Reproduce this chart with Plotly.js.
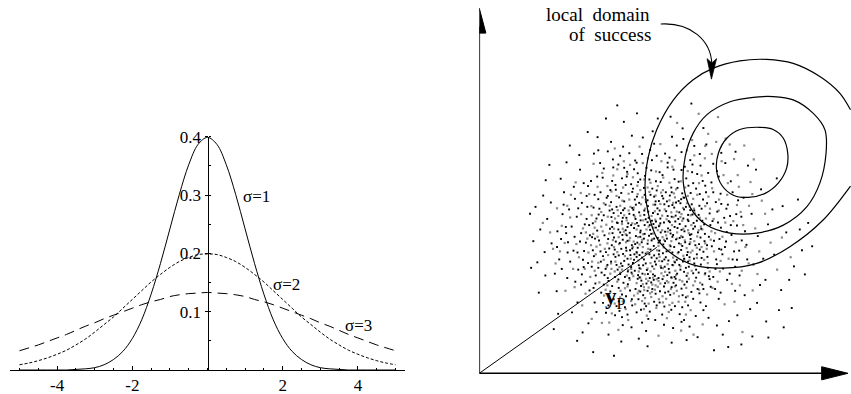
<!DOCTYPE html>
<html><head><meta charset="utf-8">
<script src="https://cdn.plot.ly/plotly-3.0.1.min.js"></script>
<style>html,body{margin:0;padding:0;background:#fff}</style>
</head><body><div id="chart" style="width:851px;height:394px"></div>
<script>
// ---------- LEFT PANEL: p(z) curves ----------
const z = [-5,-4.75,-4.5,-4.25,-4,-3.75,-3.5,-3.25,-3,-2.75,-2.5,-2.25,-2,-1.75,-1.5,-1.25,-1,-0.75,-0.5,-0.25,0,0.25,0.5,0.75,1,1.25,1.5,1.75,2,2.25,2.5,2.75,3,3.25,3.5,3.75,4,4.25,4.5,4.75,5];
const pSigma1 = [0,0,0,0,0,0,0.001,0.002,0.004,0.009,0.018,0.032,0.054,0.086,0.130,0.183,0.242,0.301,0.352,0.387,0.399,0.387,0.352,0.301,0.242,0.183,0.130,0.086,0.054,0.032,0.018,0.009,0.004,0.002,0.001,0,0,0,0,0,0];
const pSigma2 = [0.009,0.012,0.016,0.021,0.027,0.034,0.043,0.053,0.065,0.078,0.091,0.106,0.121,0.136,0.151,0.164,0.176,0.186,0.193,0.198,0.199,0.198,0.193,0.186,0.176,0.164,0.151,0.136,0.121,0.106,0.091,0.078,0.065,0.053,0.043,0.034,0.027,0.021,0.016,0.012,0.009];
const pSigma3 = [0.033,0.038,0.043,0.049,0.055,0.061,0.068,0.075,0.081,0.088,0.094,0.100,0.106,0.112,0.117,0.121,0.126,0.129,0.131,0.132,0.133,0.132,0.131,0.129,0.126,0.121,0.117,0.112,0.106,0.100,0.094,0.088,0.081,0.075,0.068,0.061,0.055,0.049,0.043,0.038,0.033];
const xTickVals = [-4,-2,2,4];
const xTickText = ['-4','-2','2','4'];
const yTickVals = [0.1,0.2,0.3,0.4];
const sigmaLabels = ['σ=1','σ=2','σ=3'];
const sigmaLabelZ = [1.31,2.11,4.01];
const sigmaLabelP = [0.297,0.146,0.077];

// ---------- RIGHT PANEL: scatter cloud, success contours, y_P ----------
const yP = {x:[0,48.6], y:[0,34.5]};
const contourOuter = {
  x:[101.7,94.2,85.1,76.0,66.8,58.6,53.2,49.0,46.3,45.4,46.3,48.6,53.2,58.6,64.1,71.4,78.7,86.0,93.3,98.8,101.7],
  y:[51.3,42.0,34.7,30.1,28.8,29.7,32.4,36.5,43.8,51.1,59.3,66.7,74.9,80.4,83.6,85.6,86.0,84.9,81.3,76.7,72.2]};
const contourMiddle = {
  x:[80.5,75.1,68.7,62.3,58.6,56.4,55.9,57.7,62.3,68.7,76.0,83.3,89.7,93.3,95.0,94.7,91.5,86.0,80.5],
  y:[75.8,75.6,74.4,70.8,65.8,59.3,52.1,45.6,40.6,38.4,38.4,40.6,45.6,52.1,60.3,66.7,71.2,74.9,75.8]};
const contourInner = {
  x:[76.9,71.4,67.8,65.5,65.0,66.4,69.6,73.7,78.3,81.9,84.2,84.5,83.3,80.5,76.9],
  y:[67.4,66.8,64.4,60.3,55.7,51.6,48.8,48.2,49.3,52.1,56.2,60.3,64.4,66.8,67.4]};

const blackDots = [
[41.2,38.5],[44.7,33.1],[47.3,41.8],[50.9,36.2],[53.6,30.4],[38.5,35.7],[45.9,28.3],[49.4,44.6],[56.2,38.9],[42.8,42.3],
[39.7,30.8],[52.1,27.6],[47.8,34.9],[44.1,37.4],[55.3,33.8],[58.7,41.2],[36.4,40.1],[48.6,31.5],[51.7,39.7],[43.5,26.9],
[46.2,45.8],[54.8,44.1],[40.3,33.6],[37.9,28.4],[57.4,29.2],[50.2,25.8],[45.3,40.6],[42.1,30.2],[53.9,36.7],[49.8,28.9],
[38.8,43.9],[60.2,35.4],[47.1,38.2],[44.6,31.7],[52.7,42.9],[35.6,34.2],[41.9,45.3],[56.8,26.7],[48.3,47.1],[39.2,37.9],
[54.1,31.1],[46.7,26.1],[43.3,35.8],[51.3,33.4],[58.1,38.1],[37.3,31.9],[45.2,43.4],[50.6,41.3],[42.6,28.1],[55.9,42.4],
[40.8,41.1],[48.9,37.1],[53.2,24.8],[44.9,29.6],[36.9,37.2],[59.6,32.6],[47.6,43.9],[41.4,32.4],[52.4,38.3],[46.1,35.5],
[39.9,26.4],[56.4,35.9],[43.8,46.7],[50.1,30.7],[54.6,47.2],[38.1,39.4],[45.6,32.8],[49.1,35.8],[42.4,39.8],[57.8,44.7],
[35.1,29.7],[51.9,45.8],[47.4,29.3],[44.2,41.9],[53.4,34.6],[40.6,36.3],[48.1,26.7],[55.1,28.4],[37.6,45.6],[46.8,39.3],
[43.1,33.2],[51.1,31.8],[58.9,30.1],[41.7,27.6],[49.6,42.4],[54.3,39.8],[39.4,32.7],[45.1,36.9],[52.9,29.7],[47.9,32.3],
[36.2,42.8],[60.8,39.6],[44.4,25.4],[50.4,47.9],[42.9,37.6],[56.1,31.4],[46.4,42.6],[38.6,27.2],[53.7,41.6],[48.4,39.9],
[41.1,43.7],[55.7,37.3],[45.8,24.6],[51.4,36.9],[39.1,41.6],[57.1,33.2],[43.9,28.8],[49.3,33.6],[47.2,36.4],[52.6,26.3],
[25.3,40.2],[28.7,33.5],[22.4,36.8],[31.6,48.9],[27.1,28.4],[33.8,53.6],[30.2,22.7],[24.6,44.9],[35.4,18.6],[29.8,51.3],
[26.3,25.1],[32.7,43.5],[21.9,31.2],[34.1,24.3],[28.1,46.7],[36.7,56.4],[23.7,40.1],[30.9,37.3],[37.2,15.9],[33.3,30.6],
[40.5,55.2],[38.2,19.7],[42.7,58.3],[44.3,17.4],[46.8,61.2],[48.2,14.6],[51.6,57.7],[50.7,18.3],[55.4,60.6],[54.9,16.2],
[58.3,55.1],[60.6,19.4],[62.1,49.6],[63.4,23.7],[65.2,44.3],[64.7,28.6],[67.8,38.7],[66.3,33.9],[69.4,31.2],[68.1,46.2],
[71.3,26.8],[70.6,40.5],[73.2,35.2],[72.7,21.4],[75.1,29.8],[74.6,43.7],[62.8,15.2],[57.6,12.8],[45.7,11.6],[39.3,13.2],
[32.1,16.8],[26.9,19.4],[19.8,35.6],[18.6,42.3],[20.7,27.3],[23.2,49.6],[27.6,55.8],[31.4,60.2],[36.1,63.4],[41.8,65.1],
[47.5,66.3],[52.8,64.8],[58.9,62.3],[64.1,57.4],[68.9,52.6],[72.4,48.1],[76.3,37.6],[77.8,31.4],[76.9,24.2],[74.2,17.6],
[68.4,14.3],[61.7,36.2],[63.9,41.7],[60.3,45.9],[59.4,26.2],[62.5,31.9],[65.8,36.8],[61.2,52.7],[57.3,51.4],[53.5,53.2],
[49.7,52.4],[45.4,54.1],[41.6,51.8],[37.4,50.3],[34.6,46.2],[32.3,39.1],[31.1,33.7],[33.5,27.6],[35.9,22.4],[40.2,21.1],
[43.6,20.3],[47.9,19.6],[52.3,21.5],[56.6,20.8],[59.8,23.1],[61.9,27.4],[29.4,42.3],[26.1,37.4],[24.2,33.1],
[14.8,36.2],[16.3,22.1],[17.5,48.7],[15.9,30.4],[19.2,57.1],[21.6,16.3],[24.8,62.4],[28.3,11.2],[34.7,69.8],[38.9,8.7],
[43.2,71.2],[46.1,7.4],[52.4,70.3],[56.8,9.1],[61.4,67.2],[66.7,10.6],[70.2,60.7],[78.6,14.2],[80.3,44.9],[82.7,22.8],
[84.1,38.6],[86.2,29.3],[81.5,53.4],[88.4,33.7],[79.2,9.8],[90.1,41.2],[85.6,17.9],[75.8,55.8],[13.9,43.7],[18.1,26.8],
[22.3,53.3],[29.7,66.1],[37.8,73.4],[64.3,6.3],[71.8,7.9],[87.3,47.6],[83.4,12.6],[58.1,73.9],[20.4,12.1],[31.2,5.8],
[43.4,34.4],[46.5,37.7],[49.2,40.3],[51.6,43.1],[54.7,35.6],[57.9,36.8],[40.1,39.2],[38.9,34.1],[42.2,44.8],[45.7,46.9],
[48.8,45.2],[53.1,37.9],[55.8,30.6],[50.3,32.9],[47.6,27.1],[44.3,23.9],[41.6,29.1],[39.5,24.8],[36.8,32.6],[34.3,37.8],
[35.7,44.6],[38.3,48.2],[41.9,49.7],[45.1,50.8],[48.6,50.1],[52.2,48.7],[55.6,49.3],[58.2,46.3],[60.1,43.4],[61.6,40.8],
[62.9,37.4],[61.4,33.3],[60.7,29.8],[58.6,27.4],[55.4,23.2],[51.8,22.4],[48.3,21.8],[44.9,21.4],[41.3,22.7],[38.1,25.7],
[35.2,26.1],[33.9,32.1],[32.8,36.4],[33.6,41.9],[36.1,46.9],[39.8,45.2],[43.2,41.2],[46.1,41.4],[49.7,38.6],[52.4,34.8],
[50.8,29.2],[47.2,31.7],[44.5,35.9],[41.8,35.1],[40.6,31.4],[43.1,31.9],[45.6,30.1],[48.4,29.8],[51.5,26.9],[54.2,27.3],
[56.9,32.4],[59.2,35.1],[57.3,41.7],[54.5,42.3],[51.9,41.7],[48.9,43.6],[46.3,44.3],[43.8,44.1],[40.3,42.6],[37.7,41.3],
[36.3,35.1],[37.6,29.7],[40.7,27.9],[43.9,26.3],[47.1,24.9],[50.6,23.8],[53.8,25.9],[56.6,28.9],[58.8,31.4],[59.9,38.6],
[63.7,34.8],[64.9,31.2],[66.8,28.7],[65.4,41.3],[63.1,43.8],[61.3,47.6],[59.4,50.6],[56.7,53.4],[53.2,55.8],[49.4,55.1],
[45.8,56.3],[42.4,55.9],[39.1,53.4],[36.4,52.7],[33.2,49.6],[31.3,45.4],[30.1,40.6],[29.2,35.8],[29.8,30.2],[31.9,26.8],
[33.4,22.1],[36.8,20.3],[39.9,18.1],[43.1,16.7],[46.7,16.9],[50.1,16.1],[53.6,18.4],[57.2,18.6],[60.3,21.9],[63.1,25.8],
[67.3,34.6],[69.1,37.9],[71.2,33.6],[68.7,43.1],[66.1,49.2],[62.7,54.9],[57.8,58.4],[50.9,60.2],[44.6,60.1],[38.6,59.6],
[33.1,57.6],[28.6,52.1],[26.2,47.8],[23.8,38.4],[24.9,30.6],[27.9,24.3],[31.6,19.4],[41.7,12.6],[53.1,12.4],[59.3,15.7],
[65.6,20.4],[70.1,29.2],[72.8,38.9],[70.9,47.4],[67.4,57.6],[55.9,64.2],[44.8,64.6],[35.2,60.8],[22.8,43.6],[21.4,38.9],
[42.6,47.6],[45.3,48.9],[47.9,48.4],[50.7,46.3],[53.4,45.4],[55.3,47.7],[52.6,50.9],[56.1,44.9],[58.4,43.5],[60.6,37.2],
[16.7,39.4],[19.6,46.8],[17.9,33.2],[21.2,22.5],[25.4,16.7],[27.4,59.8],[32.4,64.7],[39.6,68.9],[48.9,69.8],[55.7,67.1],
[62.2,62.7],[66.3,60.4],[73.6,56.9],[77.2,50.4],[79.1,40.8],[80.8,32.5],[78.4,25.6],[76.1,19.3],[70.7,15.9],[65.1,13.1],
[59.8,9.9],[52.7,8.4],[43.7,9.5],[35.4,10.6],[29.9,13.7],[24.1,26.1],[14.2,28.9],[15.4,45.6],[18.2,52.9],[23.9,57.8],
[84.9,25.6],[87.8,39.4],[83.1,45.8],[89.2,27.1],[82.1,17.3],[74.8,10.1],[68.2,7.2],[26.8,8.9],[36.9,4.8],[91.2,34.8],
[39.3,36.6],[41.9,34.2],[44.2,39.1],[46.9,33.9],[49.5,36.4],[52.3,39.2],[54.9,37.1],[57.6,35.4],[43.7,29.6],[40.9,29.8],
[38.2,32.3],[36.5,38.4],[37.9,41.2],[41.6,40.6],[45.6,42.2],[48.4,41.6],[51.2,44.4],[53.8,43.2],[56.5,40.3],[59.1,40.2],
[57.7,37.9],[55.6,34.9],[52.9,33.1],[50.7,31.2],[48.1,30.6],[45.1,31.2],[42.5,32.6],[40.2,34.4],[37.4,36.1],[35.8,39.6],
[34.1,43.3],[36.8,43.9],[39.4,44.7],[42.9,46.2],[46.1,47.4],[49.2,47.2],[52.9,46.1],[55.1,46.6],[57.2,43.4],[59.6,41.8],
[61.8,38.2],[60.4,33.9],[57.6,31.8],[54.8,29.7],[51.9,28.6],[49.1,26.1],[46.2,27.2],[43.4,25.9],[40.7,24.4],[37.2,26.4],
[34.6,28.6],[33.2,33.4],[31.7,36.9],[32.1,42.4],[34.9,48.1],[38.9,49.4],[42.1,50.6],[47.4,50.6],[51.1,49.6],[54.3,50.8],
[57.9,49.4],[60.9,45.1],[63.3,40.6],[64.3,36.3],[62.6,28.9],[60.1,27.6],[56.2,24.3],[52.7,23.6],[49.5,22.5],[46.1,22.6],
[42.8,23.1],[39.1,21.6],[36.4,23.9],[34.3,26.9],[30.8,29.2],[28.4,31.1],[27.6,36.1],[28.9,40.8],[29.6,45.6],[32.6,47.7],
[35.9,50.2],[40.1,51.6],[43.5,52.4],[46.6,53.1],[50.2,54.3],[54.6,52.5],[58.6,52.1],[60.4,49.1],[62.4,46.6],[64.8,46.9],
[66.2,39.9],[65.7,34.1],[64.1,26.4],[61.1,24.3],[58.1,22.3],[55.7,21.4],[49.4,19.4],[45.3,19.1],[41.9,18.6],[38.4,17.1],
[34.7,16.6],[31.3,23.4],[28.1,27.1],[25.8,33.6],[26.7,42.9],[30.6,52.7],[34.1,56.1],[38.1,57.2],[43.1,57.7],[47.3,58.4],
[52.1,59.1],[56.3,56.6],[60.6,56.9],[63.6,52.3],[67.7,45.1],[68.9,40.6],[69.8,33.4],[67.9,25.6],[66.1,22.1],[62.1,18.4],
[56.1,14.6],[50.6,13.3],[44.6,13.9],[39.1,15.4],[33.9,19.3],[29.1,25.1],[24.3,35.9],[27.1,45.2],[39.4,62.1],[47.9,62.9],
[54.1,62.4],[60.4,60.1],[65.6,53.9],[71.8,42.9],[73.4,31.2],[70.1,22.6],[44.1,38.6],[47.7,40.9],[50.9,38.8],[53.5,40.1],
[40.4,37.8],[42.7,35.4],[45.3,38.2],[47.9,36.9],[50.4,35.3],[52.9,37.4],[55.4,39.3],[58.6,39.6],[41.3,33.7],[43.9,32.4],
[46.6,32.6],[49.2,32.6],[51.8,30.9],[54.6,33.2],[57.2,30.6],[39.2,29.4],[42.4,31.1],[44.7,27.3],[47.8,25.6],[50.9,24.7],
[53.5,26.4],[56.1,27.8],[37.1,33.9],[38.6,38.6],[40.6,40.1],[43.6,40.4],[46.7,40.6],[49.6,41.1],[52.2,41.4],[54.9,40.9],
[57.1,42.1],[39.3,42.6],[42.3,43.4],[45.2,44.6],[48.2,46.2],[51.4,47.1],[53.9,46.8],[56.6,45.6],[36.4,44.9],[39.7,47.1],
[43.2,48.4],[46.9,48.9],[50.1,48.6],[35.3,36.8],[34.7,33.2],[36.1,30.6],[38.8,30.1],[41.1,26.1],[44.1,22.4],[47.4,23.1],
[50.9,22.1],[53.9,24.1],[56.9,25.1],[59.4,28.4],[60.9,31.6],[62.4,35.1],[61.1,41.8],[58.9,44.6],[56.1,48.1],[52.7,49.6],
[48.4,52.6],[44.1,53.1],[40.4,53.9],[37.3,51.6],[35.2,48.6],[32.9,45.1],[31.1,41.1],[30.3,37.8],[31.4,32.1],[32.6,28.9],
[35.4,25.3],[38.2,23.4],[41.8,20.3],[45.7,18.4],[48.6,18.6],[52.6,17.4],[55.6,18.1],[58.6,20.4],[61.4,23.1],[62.9,26.6],
[65.1,29.9],[66.6,32.6],[67.6,36.1],[67.1,42.6],[66.3,46.4],[64.1,49.6],[61.9,51.4],[59.7,54.6],[55.4,55.7],[51.6,56.4],
[47.1,55.6],[43.4,54.8],[39.7,56.3],[36.6,58.6],[32.3,53.9],[29.4,48.6],[27.9,38.4],[26.9,33.1],[28.6,29.1],[31.8,24.6],
[37.6,18.4],[40.6,16.1],[46.3,14.9],[55.4,14.1],[61.4,17.3],[64.6,23.1],[68.6,27.3],[70.6,31.1],[71.9,36.4],[70.4,43.6],
[69.4,49.6],[65.1,55.4],[58.4,57.2],[48.6,59.6],[41.1,60.3],[32.6,61.1],[25.9,51.1],[23.1,46.2],[21.3,34.6],[22.6,28.6]];

const grayDots = [
[42.3,36.1],[45.8,39.4],[48.7,33.7],[51.2,37.8],[54.4,32.9],[46.9,30.2],[49.9,27.4],[52.8,40.6],[44.1,43.2],[39.6,38.8],
[47.4,36.8],[50.5,34.5],[53.7,28.1],[41.5,31.4],[56.3,36.4],[43.7,27.9],[48.2,42.1],[55.6,41.8],[37.8,33.2],[46.3,25.3],
[51.8,24.9],[58.4,33.6],[40.9,44.6],[44.8,34.6],[49.3,30.8],[52.2,35.1],[47.7,46.2],[54.9,25.6],[42.7,40.9],[38.4,29.1],
[57.2,39.2],[45.2,22.8],[50.8,44.9],[36.6,36.5],[53.3,21.9],[48.9,23.7],[41.2,25.6],[59.1,29.4],[55.8,45.3],[43.4,49.1],
[34.8,40.7],[62.3,34.1],[46.6,49.7],[50.3,50.2],[39.2,47.3],[33.1,35.2],[60.4,42.6],[56.7,23.4],[44.6,19.8],[52.1,18.7],
[47.1,20.9],[35.9,27.3],[38.7,22.6],[58.6,47.8],[61.8,27.1],[31.8,41.6],[29.6,36.9],[32.6,30.3],[64.6,38.4],[63.2,45.1],
[55.2,52.6],[48.4,55.3],[42.1,53.7],[36.2,49.8],[30.7,45.8],[28.4,39.7],[27.3,31.8],[30.4,26.4],[34.2,21.3],[40.1,17.6],
[45.9,15.8],[51.4,15.1],[57.9,17.3],[62.4,21.6],[66.1,30.8],[67.4,41.3],[65.7,47.6],[60.9,54.2],[53.6,58.4],[46.2,58.9],
[39.6,58.1],[33.7,54.9],[27.8,49.4],[24.9,42.7],[23.4,35.7],[25.7,28.6],[29.1,21.8],[36.3,16.4],[70.3,35.9],[71.6,44.2],
[69.2,24.5],[73.8,30.1],[66.9,54.3],[63.7,60.1],[58.3,63.9],[49.6,62.8],[43.9,62.1],[37.1,61.6],[31.3,57.4],[26.4,52.3],
[21.3,45.2],[19.4,38.6],[20.9,30.1],[23.6,22.6],[30.8,14.9],[38.1,11.9],[49.1,10.3],[55.3,11.7],[61.2,13.4],[67.2,18.9],
[75.6,39.7],[77.4,47.3],[79.8,35.8],[81.6,28.4],[74.3,52.4],[69.8,58.7],[62.7,65.6],[54.2,68.6],[67.5,64.3],[72.6,62.4],
[65.4,70.2],[60.1,71.1],[57.1,48.6],[53.1,46.7],[44.3,46.3],[40.4,41.9],[37.2,42.4],[35.3,32.4],[40.8,28.3],[45.4,27.1],
[48.6,25.8],[53.9,26.9],[57.6,30.9],[59.7,37.5],[55.3,37.6],[50.1,39.2],[46.1,33.2],[43.6,30.9],[47.9,28.6],[51.6,29.9],[54.1,44.3],
[44.9,38.1],[47.8,39.9],[50.6,36.6],[53.1,31.7],[49.4,31.9],[46.1,28.7],[43.2,32.9],[41.3,37.1],[39.1,40.9],[42.6,42.9],
[45.4,45.1],[48.1,44.4],[51.3,42.2],[54.2,38.6],[56.8,34.3],[55.1,29.3],[52.7,26.1],[49.6,24.6],[46.4,23.5],[43.1,24.7],
[40.4,26.8],[37.3,30.6],[35.6,38.3],[37.9,44.7],[41.1,47.6],[44.7,48.2],[48.3,48.7],[52.1,47.4],[55.4,43.6],[58.1,40.6],
[59.6,34.4],[58.2,28.1],[55.6,25.2],[51.2,20.4],[47.3,22.3],[42.4,21.3],[38.6,27.6],[36.1,30.1],[34.4,34.1],[35.2,42.9],
[39.4,50.9],[46.9,52.2],[53.9,50.4],[57.6,45.7],[61.1,39.4],[62.6,30.2],[60.5,24.8],[50.2,21.1],[49.1,25.3],[52.5,23.1],
[48.1,22.9],[50.9,27.8],[53.6,23.8],[46.8,21.9],[45.7,25.9],[44.2,28.6],[42.1,34.6],[40.2,35.9],[38.2,37.3],[36.9,39.6],
[39.7,43.3],[33.8,38.9],[32.1,34.7],[31.2,38.2],[33.4,44.2],[30.9,30.6],[34.9,29.2],[57.4,25.9],[59.1,25.2],[61.6,31.1],
[63.4,36.6],[64.2,42.3],[61.9,45.8],[59.7,48.9],[56.4,50.9],[50.4,53.6],[45.2,53.1],[40.6,54.6],[37.8,55.9],[63.8,50.7],
[67.9,48.9],[69.6,41.7],[68.3,31.4],[65.3,25.1],[57.1,21.1],[54.6,19.6],[48.5,17.9],[42.7,18.9],[37.1,19.1],[32.9,24.9],
[28.9,28.6],[26.6,35.4],[27.9,43.6],[30.1,49.1],[35.1,51.3],[66.4,58.1],[70.8,54.3],[64.9,63.4],[71.1,51.1],[73.9,45.9],
[61.8,58.9],[58.9,59.7],[68.6,62.7],[75.2,58.6],[78.3,43.7],[72.3,40.6],[71.9,28.1],[76.7,33.4],[74.9,22.7],[69.9,19.6],
[22.6,40.4],[20.2,34.1],[25.1,48.9],[17.4,41.2],[28.2,18.6],[33.6,13.8],[58.7,10.6],[72.1,11.3],[82.9,37.2],[85.3,31.8],
[44.6,36.6],[47.6,38.3],[50.2,37.3],[52.6,36.2],[55.2,35.4],[49.1,34.9],[46.3,34.1],[43.9,35.3],[41.1,36.4],[39.3,39.6],
[41.9,41.1],[44.9,41.9],[47.2,43.1],[50.1,43.2],[53.2,42.8],[55.9,39.6],[57.8,35.9],[56.2,31.2],[53.1,29.6],[50.3,28.8],
[47.6,26.2],[44.8,24.4],[41.9,27.2],[39.1,28.4],[36.9,34.6],[38.6,45.9],[41.4,45.6],[44.1,50.2],[48.9,51.3],[52.1,52.2],
[55.9,48.2],[58.8,45.1],[60.7,40.2],[61.9,35.6],[59.6,31.6],[57.1,27.4],[54.1,22.6],[51.4,25.3],[48.3,24.1],[45.1,23.6],
[42.2,26.6],[39.9,23.3],[37.1,27.9],[34.1,31.1],[32.4,37.4],[33.4,40.2],[35.7,45.9],[37.6,48.6],[40.9,49.2],[43.3,51.4],
[46.1,50.9],[49.8,49.5],[53.6,48.2],[56.9,46.6],[59.1,43.8],[62.1,42.4],[63.6,38.9],[64.3,33.4],[63.1,27.9],[60.2,22.9],
[56.4,19.6],[52.9,19.3],[49.2,20.3],[45.4,20.6],[41.6,19.8],[38.6,20.8],[35.1,24.1],[31.6,28.1],[29.9,33.1],[29.2,38.6],
[30.8,43.3],[32.4,51.1],[36.7,54.2],[41.3,57.1],[44.8,57.6],[49.9,58.1],[52.9,56.6],[57.1,55.4],[60.2,52.1],[62.8,48.4],
[65.6,44.6],[66.6,37.4],[65.9,27.9],[63.9,23.4],[68.1,52.1],[70.6,46.1],[72.9,34.6],[71.4,24.1],[74.8,49.1],[76.2,27.2],
[45.1,17.6],[51.9,16.8],[40.8,14.6],[56.6,16.1],[35.6,13.9],[24.1,45.9],[22.1,33.4],[26.1,23.6],[61.9,62.3],[56.9,61.1],
[43.5,37.3],[46.2,36.4],[48.9,39.2],[51.6,38.8],[54.2,36.9],[52.1,33.8],[49.7,29.4],[46.9,27.9],[44.1,26.2],[41.6,28.6],
[39.9,32.1],[38.3,35.4],[40.1,38.1],[43.1,39.4],[46.4,40.2],[49.4,40.6],[52.6,44.1],[55.1,42.8],[57.4,38.4],[58.9,36.2],
[57.9,33.1],[55.9,32.2],[53.4,30.6],[50.5,26.6],[47.4,24.3],[43.7,22.6],[40.6,23.8],[37.8,25.1],[36.2,28.6],[35.1,35.6],
[36.4,41.6],[38.1,43.1],[42.3,45.4],[45.6,47.6],[49.6,46.4],[53.3,49.3],[57.9,43.3],[60.1,39.2],[60.9,34.6],[58.6,24.1],
[54.7,21.1],[50.3,19.4],[46.4,19.1],[43.4,21.9],[39.3,19.7],[34.6,22.9],[31.9,32.6],[30.6,35.1],[31.6,39.9],[34.1,46.6]];

const serif = 'Liberation Serif';
const col = a => a.map(p => p[0]);
const row = a => a.map(p => p[1]);

const traces = [
  {x:z, y:pSigma1, mode:'lines', line:{color:'#000', width:1, shape:'spline'}, xaxis:'x', yaxis:'y', hoverinfo:'skip'},
  {x:z, y:pSigma2, mode:'lines', line:{color:'#000', width:1, shape:'spline', dash:'3px,2px'}, xaxis:'x', yaxis:'y', hoverinfo:'skip'},
  {x:z, y:pSigma3, mode:'lines', line:{color:'#000', width:1, shape:'spline', dash:'10px,6px'}, xaxis:'x', yaxis:'y', hoverinfo:'skip'},
  {x:col(grayDots), y:row(grayDots), mode:'markers', marker:{symbol:'square', size:2.2, color:'#8a8a8a', line:{width:0}}, xaxis:'x2', yaxis:'y2', hoverinfo:'skip'},
  {x:col(blackDots), y:row(blackDots), mode:'markers', marker:{symbol:'square', size:1.9, color:'#000', line:{width:0}}, xaxis:'x2', yaxis:'y2', hoverinfo:'skip'},
  {x:contourOuter.x, y:contourOuter.y, mode:'lines', line:{color:'#000', width:1.2, shape:'spline', smoothing:0.9, simplify:false}, xaxis:'x2', yaxis:'y2', hoverinfo:'skip'},
  {x:contourMiddle.x, y:contourMiddle.y, mode:'lines', line:{color:'#000', width:1.2, shape:'spline', smoothing:0.9, simplify:false}, xaxis:'x2', yaxis:'y2', hoverinfo:'skip'},
  {x:contourInner.x, y:contourInner.y, mode:'lines', line:{color:'#000', width:1.2, shape:'spline', smoothing:0.9, simplify:false}, xaxis:'x2', yaxis:'y2', hoverinfo:'skip'},
  {x:yP.x, y:yP.y, mode:'lines', line:{color:'#000', width:1}, xaxis:'x2', yaxis:'y2', hoverinfo:'skip'}
];

const W = 851, H = 394;
const annotations = [];
sigmaLabels.forEach((t,i) => annotations.push({xref:'x', yref:'y', x:sigmaLabelZ[i], y:sigmaLabelP[i], text:t, showarrow:false, xanchor:'center', yanchor:'middle', font:{family:serif, size:17, color:'#000'}}));
annotations.push({xref:'x', yref:'y', x:0.02, y:0.422, text:'p(z)', showarrow:false, xanchor:'center', yanchor:'middle', font:{family:serif, size:17, color:'#000'}});
annotations.push({xref:'x', yref:'y', x:5.6, y:0.003, text:'z', showarrow:false, xanchor:'center', yanchor:'middle', font:{family:serif, size:18, color:'#000'}});
annotations.push({xref:'x2', yref:'y2', x:47.4, y:98.4, text:'local\u00a0 domain', showarrow:false, xanchor:'right', yanchor:'middle', font:{family:serif, size:19, color:'#000'}});
annotations.push({xref:'x2', yref:'y2', x:47.6, y:92.7, text:'of\u00a0 success', showarrow:false, xanchor:'right', yanchor:'middle', font:{family:serif, size:19, color:'#000'}});
annotations.push({xref:'x2', yref:'y2', x:37.2, y:20.6, text:'<b>y</b><sub>P</sub>', showarrow:false, xanchor:'center', yanchor:'middle', font:{family:serif, size:23, color:'#000'}});

const shapes = [
  {type:'line', xref:'x', yref:'y', x0:0, x1:0, y0:-0.0115, y1:0, line:{color:'#000', width:1}},
  {type:'line', xref:'x2', yref:'y2', x0:0, y0:0, x1:0, y1:95, line:{color:'#000', width:1.6}},
  {type:'line', xref:'x2', yref:'y2', x0:0, y0:0, x1:95, y1:0, line:{color:'#000', width:1.6}},
  {type:'path', xref:'x2', yref:'y2', path:'M -1.8 93.2 L 0 100 L 1.8 93.2 Z', fillcolor:'#000', line:{color:'#000', width:1}},
  {type:'path', xref:'x2', yref:'y2', path:'M 93.8 -1.8 L 101 0 L 93.8 1.8 Z', fillcolor:'#000', line:{color:'#000', width:1}},
  {type:'path', xref:'x2', yref:'y2', path:'M 49.7 95.7 C 57.8 96.2 63.5 91.3 63.7 84.7', line:{color:'#000', width:1.1}},
  {type:'path', xref:'x2', yref:'y2', path:'M 62.4 86.2 L 63.6 80.6 L 65.0 86.2 L 63.7 85.0 Z', fillcolor:'#000', line:{color:'#000', width:0.8}}
];

const layout = {
  width:W, height:H, margin:{l:0, r:0, t:0, b:0},
  paper_bgcolor:'#fff', plot_bgcolor:'rgba(0,0,0,0)', showlegend:false,
  font:{family:serif, size:17, color:'#000'},
  xaxis:{domain:[10/W, 405/W], range:[-5.253,5.253], showgrid:false, zeroline:false, showline:true, linecolor:'#000', linewidth:1,
         tickmode:'array', tickvals:xTickVals, ticktext:xTickText, ticks:'inside', ticklen:4, tickcolor:'#000', tickwidth:1,
         minor:{tickmode:'linear', tick0:0, dtick:0.5, ticks:'inside', ticklen:2, tickcolor:'#000', tickwidth:1},
         tickfont:{family:serif, size:17, color:'#000'}, anchor:'y', fixedrange:true},
  yaxis:{domain:[(H-370)/H, (H-136.8)/H], range:[0,0.4], showgrid:false, zeroline:false, showline:true, linecolor:'#000', linewidth:1,
         anchor:'free', position:207.5/W, tickmode:'array', tickvals:yTickVals, ticks:'outside', ticklen:3, tickcolor:'#000', tickwidth:1,
         minor:{tickmode:'linear', tick0:0, dtick:0.05, ticks:'inside', ticklen:2, tickcolor:'#000', tickwidth:1},
         tickfont:{family:serif, size:17, color:'#000'}, fixedrange:true},
  xaxis2:{domain:[479.3/W, 1], range:[0, (W-479.3)/3.65], visible:false, anchor:'y2', fixedrange:true},
  yaxis2:{domain:[0,1], range:[(373.3-H)/3.65, 373.3/3.65], visible:false, anchor:'x2', fixedrange:true},
  annotations:annotations, shapes:shapes
};
Plotly.newPlot('chart', traces, layout, {displayModeBar:false, staticPlot:true});
</script></body></html>
